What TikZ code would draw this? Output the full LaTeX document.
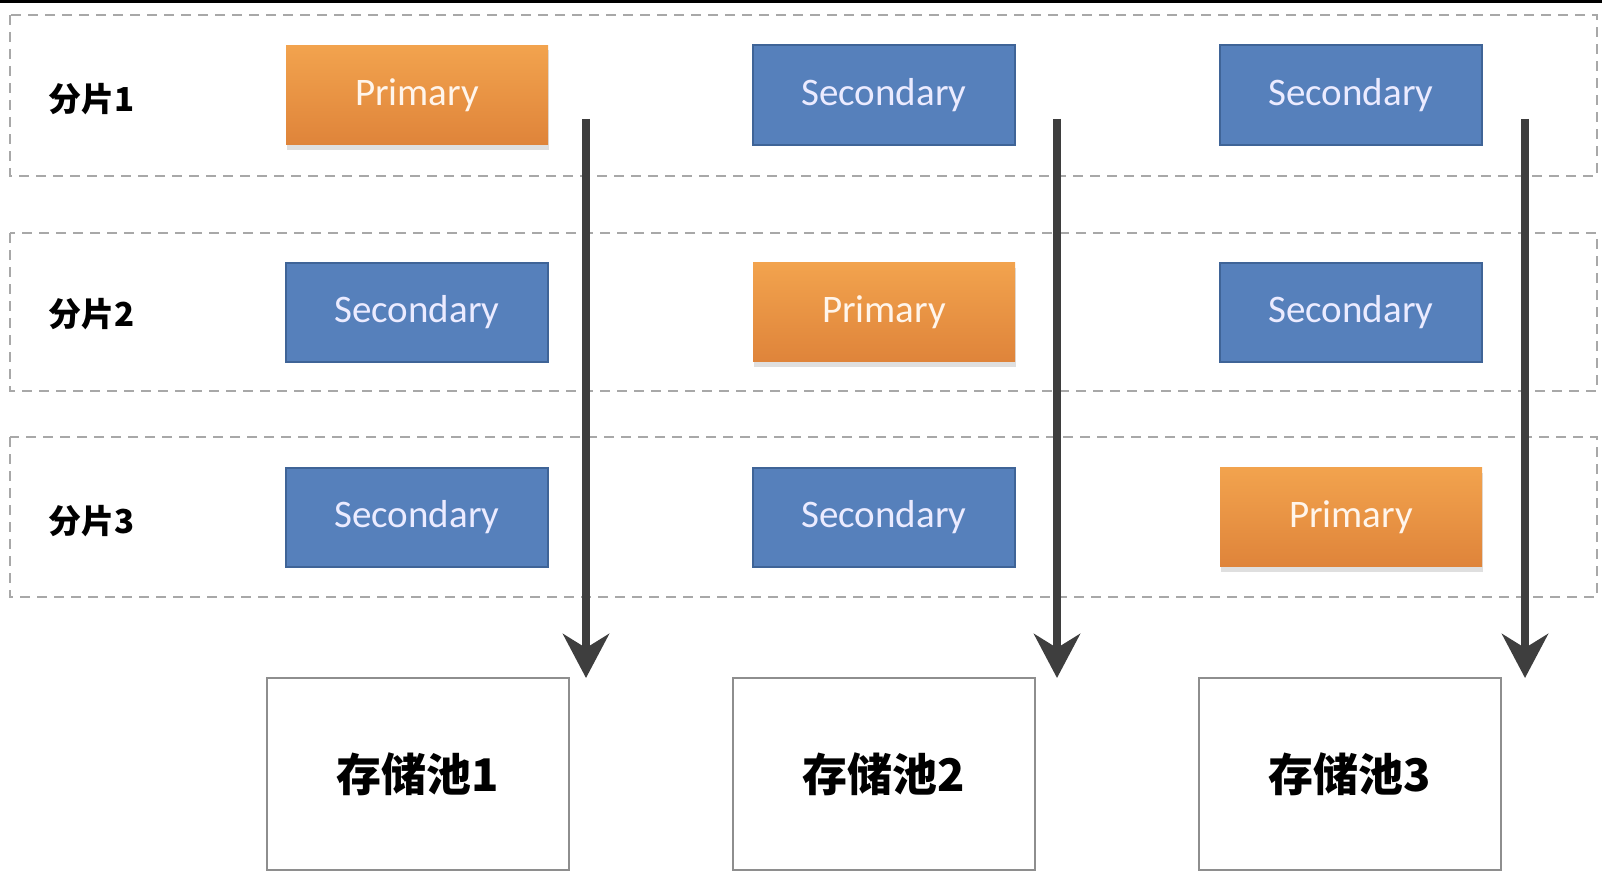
\documentclass[tikz,border=0pt]{standalone}
\usepackage{fontspec}
\setmainfont{Carlito}
\newfontfamily\cjk{Noto Sans CJK SC}
\usetikzlibrary{shadows,arrows.meta}
\definecolor{orangetop}{HTML}{F2A34E}
\definecolor{orangebot}{HTML}{DF843A}
\definecolor{bluefill}{HTML}{5680BB}
\definecolor{blueedge}{HTML}{3F6497}
\definecolor{bandgray}{HTML}{A8A8A8}
\definecolor{arrowgray}{HTML}{3E3E3E}
\definecolor{pooledge}{HTML}{8E8E8E}
\tikzset{
  bandbox/.style={draw=bandgray, line width=2pt, dash pattern=on 10pt off 7pt},
  primarybox/.style={rectangle, minimum width=262pt, minimum height=99pt, inner sep=0pt,
    top color=orangetop, bottom color=orangebot, draw=none,
    drop shadow={opacity=0.25, shadow xshift=1pt, shadow yshift=-5pt},
    text=white!92!orange, font=\fontsize{39}{44}\selectfont},
  secondarybox/.style={rectangle, minimum width=262pt, minimum height=99pt, inner sep=0pt,
    fill=bluefill, draw=blueedge, line width=2pt,
    text=white!92!blue, font=\fontsize{39}{44}\selectfont},
  poolbox/.style={rectangle, minimum width=302pt, minimum height=192pt, inner sep=0pt,
    fill=white, draw=pooledge, line width=2.5pt,
    font=\cjk\bfseries\fontsize{45}{50}\selectfont},
  shardlabel/.style={font=\cjk\bfseries\fontsize{33}{38}\selectfont, inner sep=0pt},
  flowarrow/.style={draw=arrowgray, line width=8pt,
    -{Stealth[length=44pt, width=46pt, inset=14pt]}},
}
\begin{document}
\begin{tikzpicture}[x=1pt, y=-1pt]
\useasboundingbox (0,0) rectangle (1602,872);
\fill[black] (0,0) rectangle (1602,3);
% bands
\draw[bandgray, bandbox] (10,15) rectangle (1597,176);
\draw[bandgray, bandbox] (10,233) rectangle (1597,391);
\draw[bandgray, bandbox] (10,437) rectangle (1597,597);
% labels
\node[shardlabel] (s1) at (92,99) {分片1};
\node[shardlabel] (s2) at (92,314) {分片2};
\node[shardlabel] (s3) at (92,521) {分片3};
% row 1
\node[primarybox] (p11) at (417,95) {Primary};
\node[secondarybox] (p12) at (884,95) {Secondary};
\node[secondarybox] (p13) at (1351,95) {Secondary};
% row 2
\node[secondarybox] (p21) at (417,312) {Secondary};
\node[primarybox] (p22) at (884,312) {Primary};
\node[secondarybox] (p23) at (1351,312) {Secondary};
% row 3
\node[secondarybox] (p31) at (417,517) {Secondary};
\node[secondarybox] (p32) at (884,517) {Secondary};
\node[primarybox] (p33) at (1351,517) {Primary};
% pools
\node[poolbox] (pool1) at (418,774) {存储池1};
\node[poolbox] (pool2) at (884,774) {存储池2};
\node[poolbox] (pool3) at (1350,774) {存储池3};
% arrows
\coordinate (a1s) at (586,119);
\coordinate (a1e) at (586,678);
\coordinate (a2s) at (1057,119);
\coordinate (a2e) at (1057,678);
\coordinate (a3s) at (1525,119);
\coordinate (a3e) at (1525,678);
\draw[flowarrow] (a1s) -- (a1e);
\draw[flowarrow] (a2s) -- (a2e);
\draw[flowarrow] (a3s) -- (a3e);
\end{tikzpicture}
\end{document}
